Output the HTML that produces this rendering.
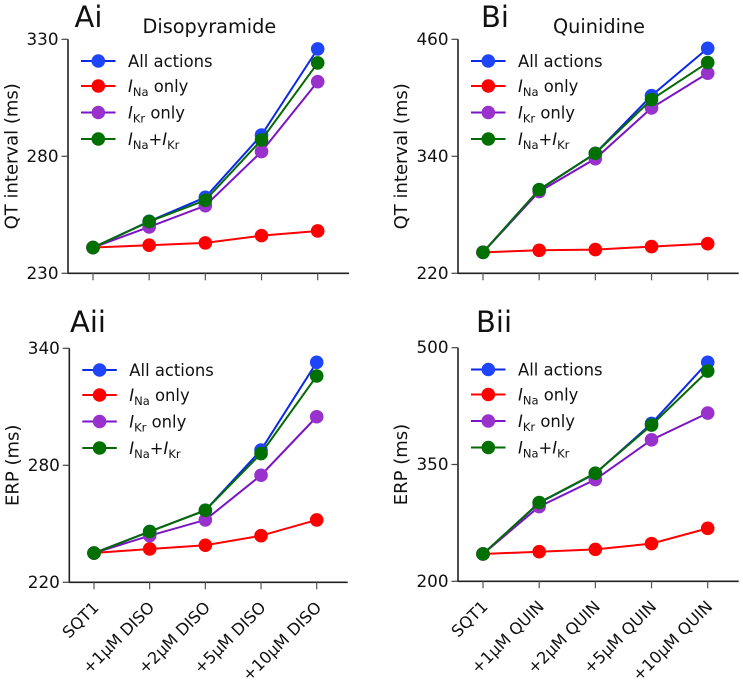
<!DOCTYPE html>
<html lang="en">
<head>
<meta charset="utf-8">
<title>QT interval and ERP: Disopyramide and Quinidine</title>
<style>
html,body{margin:0;padding:0;background:#fff;}
svg{display:block;font-family:"DejaVu Sans","Liberation Sans",sans-serif;fill:#111;}
</style>
</head>
<body>
<svg id="figure" width="743" height="681" viewBox="0 0 743 681" xmlns="http://www.w3.org/2000/svg"></svg>
<script>
const categoriesDiso = ["SQT1", "+1µM DISO", "+2µM DISO", "+5µM DISO", "+10µM DISO"];
const categoriesQuin = ["SQT1", "+1µM QUIN", "+2µM QUIN", "+5µM QUIN", "+10µM QUIN"];

const aiAll    = [241, 252.2, 262.5, 289.1, 325.9];
const aiNa     = [241, 242, 243, 246.1, 248.1];
const aiKr     = [241, 249.8, 258.9, 282, 311.9];
const aiNaKr   = [241, 252.1, 261.2, 287, 319.9];
const aiTicks  = [230, 280, 330];

const biAll    = [241.5, 305.8, 343, 402.2, 450.8];
const biNa     = [241.5, 243.6, 244.3, 247.4, 250.4];
const biKr     = [241.5, 303.8, 337.6, 389.6, 425.2];
const biNaKr   = [241.5, 305.8, 343, 398.2, 436.1];
const biTicks  = [220, 340, 460];

const aiiAll   = [235, 246, 256.9, 287.8, 332.8];
const aiiNa    = [235, 237.1, 239, 243.9, 252];
const aiiKr    = [235, 243.9, 252, 274.9, 304.9];
const aiiNaKr  = [235, 246, 256.9, 286, 325.8];
const aiiTicks = [220, 280, 340];

const biiAll   = [235.1, 300.7, 338.4, 402.7, 481.2];
const biiNa    = [235.1, 238, 241, 248.4, 268];
const biiKr    = [235.1, 296, 330.7, 381.7, 416];
const biiNaKr  = [235.1, 301.1, 338.9, 400.6, 470];
const biiTicks = [200, 350, 500];

const NS = "http://www.w3.org/2000/svg";
const root = document.getElementById("figure");
const styles = {
  all:  {line: "#0a2ae6", fill: "#1f45fb", edge: "#1f45fb"},
  na:   {line: "#ff0000", fill: "#ff0000", edge: "#ff0000"},
  kr:   {line: "#7a14c4", fill: "#9932cc", edge: "#9932cc"},
  nakr: {line: "#056a05", fill: "#007000", edge: "#007000"}
};

function make(tag, attrs, parent) {
  const node = document.createElementNS(NS, tag);
  for (const key in attrs) node.setAttribute(key, attrs[key]);
  parent.appendChild(node);
  return node;
}

function addSpan(parent, str, opts) {
  const span = make("tspan", opts, parent);
  span.textContent = str;
  return span;
}

function legendLabel(textNode, key) {
  const sub = {"font-size": 11.5, dy: 4};
  const back = {dy: -4};
  if (key === "all") {
    addSpan(textNode, "All actions", {});
  } else if (key === "na") {
    addSpan(textNode, "I", {"font-style": "italic"});
    addSpan(textNode, "Na", sub);
    addSpan(textNode, " only", back);
  } else if (key === "kr") {
    addSpan(textNode, "I", {"font-style": "italic"});
    addSpan(textNode, "Kr", sub);
    addSpan(textNode, " only", back);
  } else {
    addSpan(textNode, "I", {"font-style": "italic"});
    addSpan(textNode, "Na", sub);
    addSpan(textNode, "+", back);
    addSpan(textNode, "I", {"font-style": "italic"});
    addSpan(textNode, "Kr", sub);
  }
}

function drawPanel(p) {
  const g = make("g", {}, root);
  
  

  const n = p.categories.length;
  const xScale = function (i) { return p.x0 + (p.x1 - p.x0) * i / (n - 1); };
  const yMin = p.ticks[0];
  const yMax = p.ticks[p.ticks.length - 1];
  const yScale = function (v) { return p.bottom - (v - yMin) / (yMax - yMin) * (p.bottom - p.top); };

  const yAxis = make("line", {x1: p.axisX, x2: p.axisX, y1: p.top, y2: p.bottom + 0.7, stroke: "#222", "stroke-width": 1.6}, g);
  
  

  const xAxis = make("line", {x1: p.axisX, x2: p.axisEnd, y1: p.bottom, y2: p.bottom, stroke: "#222", "stroke-width": 1.6}, g);
  
  

  p.ticks.forEach(function (t) {
    const y = yScale(t);
    const tick = make("line", {x1: p.axisX - 6.5, x2: p.axisX, y1: y, y2: y, stroke: "#444", "stroke-width": 1.2}, g);
    
    
    const label = make("text", {x: p.axisX - 9.5, y: y + 5.5, "text-anchor": "end", "font-size": 16.8}, g);
    label.textContent = t;
    
    
  });

  p.categories.forEach(function (c, i) {
    const x = xScale(i);
    const tick = make("line", {x1: x, x2: x, y1: p.bottom, y2: p.bottom + 7, stroke: "#555", "stroke-width": 1.2}, g);
    
    
    if (p.showCategories) {
      const label = make("text", {"text-anchor": "end", "font-size": 16.2, transform: "translate(" + (x + 1.5) + "," + (p.bottom + 22) + ") rotate(-45) translate(0,6)"}, g);
      label.textContent = c;
      
      
    }
  });

  const yTitle = make("text", {"text-anchor": "middle", "font-size": 18, transform: "translate(" + p.yTitleX + "," + ((p.top + p.bottom) / 2) + ") rotate(-90)"}, g);
  yTitle.textContent = p.yLabel;
  
  

  const tag = make("text", {x: p.tagX, y: p.tagY, "font-size": 29}, g);
  tag.textContent = p.tag;
  
  

  if (p.title) {
    const title = make("text", {x: p.titleX, y: 33, "font-size": 19.3}, g);
    title.textContent = p.title;
    
    
  }

  p.series.forEach(function (s) {
    const st = styles[s.key];
    const sg = make("g", {}, g);
    
    
    const pts = s.values.map(function (v, i) { return xScale(i).toFixed(2) + "," + yScale(v).toFixed(2); }).join(" ");
    const line = make("polyline", {points: pts, fill: "none", stroke: st.line, "stroke-width": 2}, sg);
    
    
    s.values.forEach(function (v, i) {
      const dot = make("circle", {cx: xScale(i), cy: yScale(v), r: 6.8, fill: st.fill}, sg);
      
      
    });
  });

  const legend = make("g", {}, g);
  
  
  const offsets = [0, 25, 51.5, 78];
  p.series.forEach(function (s, i) {
    const st = styles[s.key];
    const y = p.legendY + offsets[i];
    const lx = p.axisX + 13;
    const entry = make("g", {}, legend);
    
    
    const ll = make("line", {x1: lx, x2: lx + 34.5, y1: y, y2: y, stroke: st.line, "stroke-width": 2}, entry);
    
    
    const lm = make("circle", {cx: lx + 17.3, cy: y, r: 6.8, fill: st.fill}, entry);
    
    
    const lt = make("text", {x: lx + 47, y: y + 6, "font-size": 16.4}, entry);
    legendLabel(lt, s.key);
    
    
  });
}

drawPanel({
  id: "ai", tag: "Ai", title: "Disopyramide", yLabel: "QT interval (ms)", categories: categoriesDiso, ticks: aiTicks,
  series: [{key: "all", values: aiAll}, {key: "na", values: aiNa}, {key: "kr", values: aiKr}, {key: "nakr", values: aiNaKr}],
  axisX: 68, axisEnd: 349, x0: 93, x1: 317.7, top: 39.3, bottom: 273.3, legendY: 61,
  tagX: 74.5, tagY: 27, titleX: 142.5, yTitleX: 17.5, showCategories: false
});
drawPanel({
  id: "bi", tag: "Bi", title: "Quinidine", yLabel: "QT interval (ms)", categories: categoriesQuin, ticks: biTicks,
  series: [{key: "all", values: biAll}, {key: "na", values: biNa}, {key: "kr", values: biKr}, {key: "nakr", values: biNaKr}],
  axisX: 458, axisEnd: 738.7, x0: 483, x1: 707.7, top: 39.3, bottom: 273.3, legendY: 61,
  tagX: 481, tagY: 27, titleX: 553, yTitleX: 407, showCategories: false
});
drawPanel({
  id: "aii", tag: "Aii", title: "", yLabel: "ERP (ms)", categories: categoriesDiso, ticks: aiiTicks,
  series: [{key: "all", values: aiiAll}, {key: "na", values: aiiNa}, {key: "kr", values: aiiKr}, {key: "nakr", values: aiiNaKr}],
  axisX: 69.3, axisEnd: 347.7, x0: 94, x1: 316.7, top: 348.3, bottom: 582.3, legendY: 370,
  tagX: 70, tagY: 332, titleX: 0, yTitleX: 18.5, showCategories: true
});
drawPanel({
  id: "bii", tag: "Bii", title: "", yLabel: "ERP (ms)", categories: categoriesQuin, ticks: biiTicks,
  series: [{key: "all", values: biiAll}, {key: "na", values: biiNa}, {key: "kr", values: biiKr}, {key: "nakr", values: biiNaKr}],
  axisX: 458, axisEnd: 738.7, x0: 483, x1: 707.7, top: 347.7, bottom: 581.3, legendY: 369.5,
  tagX: 476, tagY: 332, titleX: 0, yTitleX: 407, showCategories: true
});
</script>
</body>
</html>
